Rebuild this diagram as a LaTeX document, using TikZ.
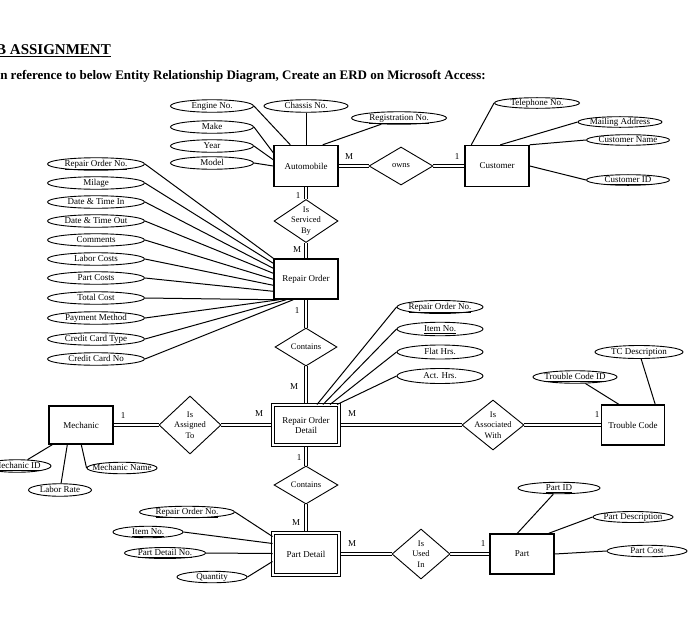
\documentclass[tikz,border=0pt]{standalone}
\usepackage{fontspec}
\setmainfont{Liberation Serif}
\usepackage{tikz}
\usetikzlibrary{shapes.geometric, backgrounds}
\tikzset{
  entity_box/.style={rectangle, draw=black, line width=1.4pt, minimum width=64pt, minimum height=41pt, inner sep=1pt, align=center, font=\fontsize{9}{10}\selectfont},
  weak_entity_box/.style={entity_box, line width=1pt, double, double distance=1.8pt, minimum width=66pt, minimum height=40pt},
  rel_diamond/.style={diamond, draw=black, line width=0.9pt, inner sep=0pt},
  rel_text/.style={align=center, inner sep=0pt, font=\fontsize{8.5}{10.5}\selectfont},
  attr_ellipse/.style={ellipse, draw=black, line width=0.9pt, inner xsep=-14pt, inner ysep=0pt, minimum height=12.5pt, text height=6pt, text depth=1.5pt, font=\fontsize{9}{9}\selectfont},
  attr_link/.style={line width=1pt, color=black},
  rel_link/.style={line width=0.8pt, double, double distance=2pt},
  card_label/.style={inner sep=0pt, font=\fontsize{9}{10}\selectfont}
}
\begin{document}
\begin{tikzpicture}[x=1pt, y=-1pt]
\useasboundingbox (0,0) rectangle (700,618);
\clip (0,0) rectangle (700,618);
\node[font=\bfseries\fontsize{15}{18}\selectfont, anchor=base east, inner sep=0pt] (title_node) at (111,55) {\underline{LAB ASSIGNMENT}};
\node[font=\bfseries\fontsize{13}{15}\selectfont, anchor=base west, inner sep=0pt] (subtitle_node) at (-5,79) {In reference to below Entity Relationship Diagram, Create an ERD on Microsoft Access:};
% entities
\node[entity_box] (automobile) at (306,166) {Automobile};
\node[entity_box] (customer) at (497,166) {Customer};
\node[entity_box, minimum height=40pt] (repair_order) at (306,279) {Repair Order};
\node[weak_entity_box] (ro_detail) at (306,425) {Repair Order\\Detail};
\node[entity_box, minimum height=38pt] (mechanic) at (81,425) {Mechanic};
\node[entity_box, minimum width=63pt, minimum height=40pt] (trouble_code) at (633,425) {Trouble Code};
\node[weak_entity_box, minimum height=42pt] (part_detail) at (306,554) {Part Detail};
\node[entity_box, minimum height=40pt] (part) at (522,554) {Part};
% relationships
\node[rel_diamond, minimum width=64pt, minimum height=38pt, label={[rel_text]center:owns}] (rel_owns) at (401,166) {};
\node[rel_diamond, minimum width=64pt, minimum height=43pt, label={[rel_text]center:{Is\\Serviced\\By}}] (rel_serviced) at (306,221) {};
\node[rel_diamond, minimum width=62pt, minimum height=38pt, label={[rel_text]center:Contains}] (rel_contains_ro) at (306,347) {};
\node[rel_diamond, minimum width=62pt, minimum height=58pt, label={[rel_text]center:{Is\\Assigned\\To}}] (rel_assigned) at (190,425) {};
\node[rel_diamond, minimum width=62pt, minimum height=50pt, label={[rel_text]center:{Is\\Associated\\With}}] (rel_associated) at (493,425) {};
\node[rel_diamond, minimum width=64pt, minimum height=38pt, label={[rel_text]center:Contains}] (rel_contains_pd) at (306,485) {};
\node[rel_diamond, minimum width=58pt, minimum height=50pt, label={[rel_text]center:{Is\\Used\\In}}] (rel_used_in) at (421,554) {};
% automobile attributes
\node[attr_ellipse, minimum width=83pt] (attr_engine_no) at (212,106) {Engine No.};
\node[attr_ellipse, minimum width=84pt] (attr_chassis_no) at (306,106) {Chassis No.};
\node[attr_ellipse, minimum width=95pt] (attr_registration_no) at (399,118) {\underline{Registration No.}};
\node[attr_ellipse, minimum width=83pt] (attr_make) at (212,127) {Make};
\node[attr_ellipse, minimum width=83pt] (attr_year) at (212,146) {Year};
\node[attr_ellipse, minimum width=83pt] (attr_model) at (212,163) {Model};
% customer attributes
\node[attr_ellipse, minimum width=85pt, minimum height=10.5pt] (attr_telephone_no) at (537,103) {Telephone No.};
\node[attr_ellipse, minimum width=84pt, minimum height=10.5pt] (attr_mailing_address) at (620,122) {Mailing Address};
\node[attr_ellipse, minimum width=83pt, minimum height=10.5pt] (attr_customer_name) at (628,140) {Customer Name};
\node[attr_ellipse, minimum width=83pt, minimum height=10.5pt] (attr_customer_id) at (628,180) {\underline{Customer ID}};
% repair order attributes
\node[attr_ellipse, minimum width=97pt] (attr_repair_order_no) at (96,164) {\underline{Repair Order No.}};
\node[attr_ellipse, minimum width=97pt] (attr_milage) at (96,183) {Milage};
\node[attr_ellipse, minimum width=97pt] (attr_date_in) at (96,202) {Date \& Time In};
\node[attr_ellipse, minimum width=97pt] (attr_date_out) at (96,221) {Date \& Time Out};
\node[attr_ellipse, minimum width=97pt] (attr_comments) at (96,240) {Comments};
\node[attr_ellipse, minimum width=97pt] (attr_labor_costs) at (96,259) {Labor Costs};
\node[attr_ellipse, minimum width=97pt] (attr_part_costs) at (96,278) {Part Costs};
\node[attr_ellipse, minimum width=97pt] (attr_total_cost) at (96,298) {Total Cost};
\node[attr_ellipse, minimum width=97pt] (attr_payment_method) at (96,318) {Payment Method};
\node[attr_ellipse, minimum width=97pt] (attr_card_type) at (96,339) {Credit Card Type};
\node[attr_ellipse, minimum width=97pt] (attr_card_no) at (96,359) {Credit Card No};
% repair order detail attributes
\node[attr_ellipse, minimum width=86pt, minimum height=13pt] (attr_rod_repair_order_no) at (440,307) {\underline{Repair Order No.}};
\node[attr_ellipse, minimum width=86pt, minimum height=13.5pt] (attr_rod_item_no) at (440,329) {\underline{Item No.}};
\node[attr_ellipse, minimum width=86pt, minimum height=14pt] (attr_flat_hrs) at (440,352) {Flat Hrs.};
\node[attr_ellipse, minimum width=86pt, minimum height=15pt] (attr_act_hrs) at (440,376) {Act. Hrs.};
% trouble code attributes
\node[attr_ellipse, minimum width=88pt, minimum height=13pt] (attr_tc_description) at (639,352) {TC Description};
\node[attr_ellipse, minimum width=84pt] (attr_trouble_code_id) at (575,377) {\underline{Trouble Code ID}};
% mechanic attributes
\node[attr_ellipse, minimum width=68pt] (attr_mechanic_id) at (17,466) {\underline{Mechanic ID}};
\node[attr_ellipse, minimum width=63pt] (attr_labor_rate) at (60,490) {Labor Rate};
\node[attr_ellipse, minimum width=70pt, minimum height=11.5pt] (attr_mechanic_name) at (122,468) {Mechanic Name};
% part detail attributes
\node[attr_ellipse, minimum width=95pt, minimum height=11.5pt] (attr_pd_repair_order_no) at (187,512) {\underline{Repair Order No.}};
\node[attr_ellipse, minimum width=70pt, minimum height=11.5pt] (attr_pd_item_no) at (148,532) {\underline{Item No.}};
\node[attr_ellipse, minimum width=81pt, minimum height=11pt] (attr_part_detail_no) at (165,553) {\underline{Part Detail No.}};
\node[attr_ellipse, minimum width=70pt, minimum height=11.5pt] (attr_quantity) at (212,577) {Quantity};
% part attributes
\node[attr_ellipse, minimum width=82pt, minimum height=11.5pt] (attr_part_id) at (559,488) {\underline{Part ID}};
\node[attr_ellipse, minimum width=80pt, minimum height=11pt] (attr_part_description) at (633,517) {Part Description};
\node[attr_ellipse, minimum width=80pt, minimum height=11.5pt] (attr_part_cost) at (647,551) {Part Cost};
% cardinalities
\node[card_label] (card_auto_owns) at (349,157) {M};
\node[card_label] (card_owns_customer) at (457,157) {1};
\node[card_label] (card_auto_serviced) at (298,196) {1};
\node[card_label] (card_serviced_ro) at (297,250) {M};
\node[card_label] (card_ro_contains) at (297,311) {1};
\node[card_label] (card_contains_rod) at (294,387) {M};
\node[card_label] (card_mech_assigned) at (123,416) {1};
\node[card_label] (card_assigned_rod) at (259,414) {M};
\node[card_label] (card_rod_associated) at (352,414) {M};
\node[card_label] (card_associated_tc) at (597,415) {1};
\node[card_label] (card_rod_contains) at (299,458) {1};
\node[card_label] (card_contains_pd) at (296,523) {M};
\node[card_label] (card_pd_used_in) at (352,544) {M};
\node[card_label] (card_used_in_part) at (483,544) {1};
\begin{scope}[on background layer]
\draw[rel_link] (automobile) -- (rel_owns);
\draw[rel_link] (rel_owns) -- (customer);
\draw[rel_link] (automobile) -- (rel_serviced);
\draw[rel_link] (rel_serviced) -- (repair_order);
\draw[rel_link] (repair_order) -- (rel_contains_ro);
\draw[rel_link] (rel_contains_ro) -- (ro_detail);
\draw[rel_link] (mechanic) -- (rel_assigned);
\draw[rel_link] (rel_assigned) -- (ro_detail);
\draw[rel_link] (ro_detail) -- (rel_associated);
\draw[rel_link] (rel_associated) -- (trouble_code);
\draw[rel_link] (ro_detail) -- (rel_contains_pd);
\draw[rel_link] (rel_contains_pd) -- (part_detail);
\draw[rel_link] (part_detail) -- (rel_used_in);
\draw[rel_link] (rel_used_in) -- (part);
\end{scope}
% attribute links
\draw[attr_link] (attr_engine_no.east) -- ([xshift=17pt]automobile.north west);
\draw[attr_link] (attr_chassis_no) -- (automobile);
\draw[attr_link] (attr_registration_no) -- ([xshift=-16pt]automobile.north east);
\draw[attr_link] (attr_make.east) -- ([yshift=-8pt]automobile.north west);
\draw[attr_link] (attr_year.east) -- ([yshift=-15pt]automobile.north west);
\draw[attr_link] (attr_model.east) -- (automobile.west);
\draw[attr_link] (attr_telephone_no.west) -- ([xshift=7pt]customer.north west);
\draw[attr_link] (attr_mailing_address.west) -- ([xshift=36pt]customer.north west);
\draw[attr_link] (attr_customer_name.west) -- (customer.north east);
\draw[attr_link] (attr_customer_id.west) -- (customer.east);
\draw[attr_link] (attr_repair_order_no.east) -- (repair_order.north west);
\draw[attr_link] (attr_milage.east) -- ([yshift=-5pt]repair_order.north west);
\draw[attr_link] (attr_date_in.east) -- ([yshift=-10pt]repair_order.north west);
\draw[attr_link] (attr_date_out.east) -- ([yshift=-15pt]repair_order.north west);
\draw[attr_link] (attr_comments.east) -- ([yshift=-21pt]repair_order.north west);
\draw[attr_link] (attr_labor_costs.east) -- ([yshift=-27pt]repair_order.north west);
\draw[attr_link] (attr_part_costs.east) -- ([yshift=-33pt]repair_order.north west);
\draw[attr_link] (attr_total_cost.east) -- (repair_order.south west);
\draw[attr_link] (attr_payment_method.east) -- ([xshift=6pt]repair_order.south west);
\draw[attr_link] (attr_card_type.east) -- ([xshift=13pt]repair_order.south west);
\draw[attr_link] (attr_card_no.east) -- ([xshift=20pt]repair_order.south west);
\draw[attr_link] (attr_rod_repair_order_no.west) -- ([xshift=11pt]ro_detail.north);
\draw[attr_link] (attr_rod_item_no.west) -- ([xshift=17pt]ro_detail.north);
\draw[attr_link] (attr_flat_hrs.west) -- ([xshift=24pt]ro_detail.north);
\draw[attr_link] (attr_act_hrs.west) -- ([xshift=31pt]ro_detail.north);
\draw[attr_link] (attr_tc_description) -- ([xshift=-10pt]trouble_code.north east);
\draw[attr_link] (attr_trouble_code_id) -- ([xshift=18pt]trouble_code.north west);
\draw[attr_link] (attr_mechanic_id) -- ([xshift=4pt]mechanic.south west);
\draw[attr_link] (attr_labor_rate) -- ([xshift=19pt]mechanic.south west);
\draw[attr_link] (attr_mechanic_name.west) -- ([xshift=33pt]mechanic.south west);
\draw[attr_link] (attr_pd_repair_order_no.east) -- ([yshift=-4pt]part_detail.north west);
\draw[attr_link] (attr_pd_item_no.east) -- ([yshift=-11pt]part_detail.north west);
\draw[attr_link] (attr_part_detail_no.east) -- ([yshift=-21pt]part_detail.north west);
\draw[attr_link] (attr_quantity.east) -- ([yshift=-29pt]part_detail.north west);
\draw[attr_link] (attr_part_id) -- ([xshift=28pt]part.north west);
\draw[attr_link] (attr_part_description.west) -- ([xshift=-6pt]part.north east);
\draw[attr_link] (attr_part_cost.west) -- (part.east);
\end{tikzpicture}
\end{document}
